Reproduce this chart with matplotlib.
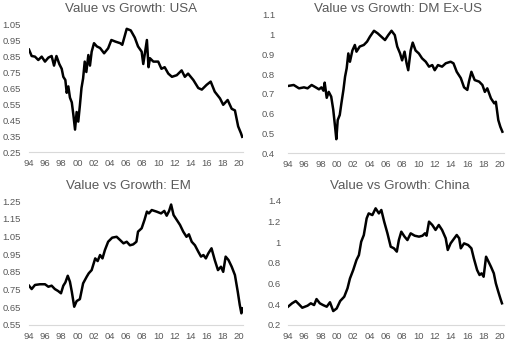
import matplotlib
matplotlib.use('Agg')
import matplotlib.pyplot as plt

# Values (x in fractional years)
USA_YEARS = [1994.0, 1994.33, 1994.74, 1995.15, 1995.57, 1995.98, 1996.4, 1996.8, 1997.1, 1997.4,
             1997.75, 1998.05, 1998.25, 1998.5, 1998.67, 1998.87, 1999.07, 1999.3, 1999.5, 1999.7,
             1999.9, 2000.1, 2000.3, 2000.5, 2000.7, 2000.9, 2001.1, 2001.35, 2001.55, 2001.76,
             2002.05, 2002.4, 2002.8, 2003.3, 2003.8, 2004.2, 2004.7, 2005.3, 2005.55, 2006.1,
             2006.6, 2007.1, 2007.5, 2007.95, 2008.15, 2008.6, 2008.8, 2008.98, 2009.4, 2010.0,
             2010.4, 2010.8, 2011.25, 2011.7, 2012.3, 2012.9, 2013.3, 2013.7, 2014.35, 2014.96,
             2015.4, 2016.0, 2016.5, 2017.0, 2017.65, 2018.05, 2018.6, 2019.1, 2019.5, 2019.9,
             2020.25, 2020.4]
USA_VALUES = [0.89, 0.85, 0.846, 0.825, 0.846, 0.815, 0.84, 0.85, 0.79, 0.85,
              0.80, 0.77, 0.72, 0.70, 0.62, 0.66, 0.59, 0.56, 0.48, 0.39,
              0.50, 0.44, 0.54, 0.65, 0.71, 0.815, 0.75, 0.856, 0.79, 0.877,
              0.93, 0.91, 0.90, 0.867, 0.898, 0.95, 0.94, 0.93, 0.92, 1.02,
              1.01, 0.965, 0.91, 0.877, 0.80, 0.95, 0.78, 0.836, 0.815, 0.815,
              0.77, 0.78, 0.74, 0.72, 0.73, 0.76, 0.72, 0.74, 0.70, 0.65,
              0.64, 0.67, 0.69, 0.627, 0.585, 0.545, 0.575, 0.52, 0.51, 0.41,
              0.367, 0.345]

DM_YEARS = [1994.0, 1994.7, 1995.35, 1995.96, 1996.4, 1996.9, 1997.4, 1997.8, 1998.1, 1998.35,
            1998.5, 1998.75, 1999.0, 1999.3, 1999.55, 1999.77, 1999.93, 2000.1, 2000.35, 2000.55,
            2000.8, 2001.0, 2001.2, 2001.4, 2001.6, 2001.9, 2002.2, 2002.4, 2002.8, 2003.3,
            2003.7, 2004.05, 2004.55, 2005.0, 2005.45, 2005.9, 2006.3, 2006.7, 2007.1, 2007.4,
            2007.75, 2008.0, 2008.3, 2008.55, 2008.75, 2009.05, 2009.3, 2009.65, 2010.05, 2010.45,
            2010.9, 2011.3, 2011.7, 2012.0, 2012.4, 2012.9, 2013.35, 2013.95, 2014.3, 2014.7,
            2015.2, 2015.6, 2016.0, 2016.2, 2016.5, 2016.9, 2017.45, 2017.85, 2018.15, 2018.45,
            2018.9, 2019.3, 2019.5, 2019.8, 2020.05, 2020.3]
DM_VALUES = [0.74, 0.745, 0.728, 0.733, 0.728, 0.745, 0.733, 0.723, 0.733, 0.716,
             0.757, 0.68, 0.71, 0.686, 0.62, 0.535, 0.47, 0.567, 0.593, 0.652,
             0.72, 0.787, 0.83, 0.905, 0.863, 0.92, 0.948, 0.914, 0.94, 0.948,
             0.965, 0.99, 1.02, 1.007, 0.99, 0.973, 0.998, 1.02, 0.998, 0.94,
             0.905, 0.87, 0.914, 0.855, 0.82, 0.92, 0.96, 0.92, 0.905, 0.88,
             0.863, 0.838, 0.846, 0.82, 0.846, 0.838, 0.855, 0.863, 0.855, 0.812,
             0.78, 0.733, 0.72, 0.762, 0.812, 0.77, 0.762, 0.745, 0.71, 0.728,
             0.677, 0.652, 0.66, 0.567, 0.533, 0.508]

EM_YEARS = [1994.0, 1994.33, 1994.74, 1995.36, 1995.98, 1996.4, 1996.8, 1997.2, 1997.6, 1997.96,
            1998.25, 1998.5, 1998.8, 1999.07, 1999.3, 1999.6, 1999.9, 2000.3, 2000.7, 2001.15,
            2001.4, 2001.76, 2002.2, 2002.5, 2002.8, 2003.1, 2003.4, 2003.8, 2004.3, 2004.85,
            2005.27, 2005.7, 2006.1, 2006.5, 2006.9, 2007.3, 2007.5, 2007.95, 2008.3, 2008.6,
            2008.85, 2009.2, 2009.8, 2010.35, 2010.75, 2011.05, 2011.35, 2011.6, 2011.9, 2012.3,
            2012.7, 2013.1, 2013.5, 2013.8, 2014.15, 2014.55, 2014.96, 2015.3, 2015.6, 2015.9,
            2016.2, 2016.6, 2017.0, 2017.4, 2017.77, 2018.05, 2018.35, 2018.7, 2019.1, 2019.5,
            2019.85, 2020.1, 2020.3, 2020.45]
EM_VALUES = [0.772, 0.753, 0.776, 0.78, 0.78, 0.766, 0.772, 0.753, 0.742, 0.729,
             0.772, 0.79, 0.828, 0.794, 0.738, 0.653, 0.685, 0.696, 0.785, 0.823,
             0.842, 0.86, 0.926, 0.911, 0.945, 0.926, 0.973, 1.02, 1.043, 1.048,
             1.03, 1.011, 1.02, 1.0, 1.005, 1.02, 1.077, 1.096, 1.143, 1.19,
             1.18, 1.199, 1.19, 1.18, 1.194, 1.167, 1.194, 1.23, 1.171, 1.143,
             1.115, 1.077, 1.048, 1.062, 1.02, 1.0, 0.964, 0.936, 0.945, 0.926,
             0.954, 0.983, 0.917, 0.86, 0.879, 0.85, 0.936, 0.917, 0.879, 0.832,
             0.738, 0.663, 0.616, 0.644]

CHINA_YEARS = [1994.0, 1994.5, 1994.95, 1995.35, 1995.75, 1996.4, 1996.8, 1997.2, 1997.5, 1997.9,
               1998.3, 1998.75, 1999.15, 1999.55, 1999.97, 2000.4, 2000.9, 2001.3, 2001.6, 2002.0,
               2002.4, 2002.7, 2002.98, 2003.3, 2003.65, 2003.9, 2004.35, 2004.75, 2005.15, 2005.45,
               2005.8, 2006.2, 2006.6, 2007.0, 2007.35, 2007.6, 2007.9, 2008.3, 2008.65, 2009.05,
               2009.55, 2010.07, 2010.5, 2010.8, 2011.0, 2011.3, 2011.7, 2012.1, 2012.5, 2012.9,
               2013.35, 2013.6, 2013.95, 2014.4, 2014.7, 2015.0, 2015.2, 2015.6, 2016.1, 2016.5,
               2016.8, 2017.2, 2017.5, 2017.75, 2018.0, 2018.3, 2018.6, 2018.9, 2019.25, 2019.5,
               2019.8, 2020.05, 2020.25]
CHINA_VALUES = [0.377, 0.41, 0.432, 0.40, 0.367, 0.387, 0.41, 0.393, 0.451, 0.41,
                0.393, 0.377, 0.42, 0.335, 0.36, 0.432, 0.474, 0.555, 0.65, 0.732,
                0.829, 0.877, 1.006, 1.07, 1.232, 1.28, 1.264, 1.329, 1.28, 1.313,
                1.2, 1.087, 0.958, 0.942, 0.91, 1.022, 1.103, 1.055, 1.022, 1.087,
                1.064, 1.055, 1.064, 1.087, 1.064, 1.2, 1.168, 1.12, 1.168, 1.12,
                1.039, 0.926, 0.99, 1.039, 1.071, 1.039, 0.942, 0.99, 0.974, 0.942,
                0.845, 0.732, 0.684, 0.70, 0.667, 0.861, 0.813, 0.764, 0.70, 0.603,
                0.522, 0.458, 0.41]

X_TICKS = [1994, 1996, 1998, 2000, 2002, 2004, 2006, 2008, 2010, 2012, 2014, 2016, 2018, 2020]
X_LABELS = ['94', '96', '98', '00', '02', '04', '06', '08', '10', '12', '14', '16', '18', '20']

USA_YTICKS = [0.25, 0.35, 0.45, 0.55, 0.65, 0.75, 0.85, 0.95, 1.05]
USA_YLABELS = ['0.25', '0.35', '0.45', '0.55', '0.65', '0.75', '0.85', '0.95', '1.05']
DM_YTICKS = [0.4, 0.5, 0.6, 0.7, 0.8, 0.9, 1.0, 1.1]
DM_YLABELS = ['0.4', '0.5', '0.6', '0.7', '0.8', '0.9', '1', '1.1']
EM_YTICKS = [0.55, 0.65, 0.75, 0.85, 0.95, 1.05, 1.15, 1.25]
EM_YLABELS = ['0.55', '0.65', '0.75', '0.85', '0.95', '1.05', '1.15', '1.25']
CHINA_YTICKS = [0.2, 0.4, 0.6, 0.8, 1.0, 1.2, 1.4]
CHINA_YLABELS = ['0.2', '0.4', '0.6', '0.8', '1', '1.2', '1.4']

TEXT_COLOR = '#595959'
AXIS_COLOR = '#d9d9d9'
W, H = 515, 348

plt.rcParams['font.family'] = ['Liberation Sans', 'DejaVu Sans']


def draw_panel(fig, box, title, title_xy, years, values, yticks, ylabels, ypad):
    """
    One Excel-style line panel; box and title_xy are in pixels from top-left
    """
    left, top, right, bottom = box
    ax = fig.add_axes([left / W, 1 - bottom / H, (right - left) / W, (bottom - top) / H])
    ax.plot(years, values, color='black', lw=1.8, solid_joinstyle='round')

    ax.set_xlim(1994, 2020.5)
    ax.set_ylim(yticks[0], yticks[-1])
    ax.set_xticks(X_TICKS)
    ax.set_xticklabels(X_LABELS)
    ax.set_yticks(yticks)
    ax.set_yticklabels(ylabels)
    ax.tick_params(axis='both', length=0, labelsize=6.8, colors=TEXT_COLOR)
    ax.tick_params(axis='x', pad=5)
    ax.tick_params(axis='y', pad=ypad * 0.72)

    for side in ['top', 'right', 'left']:
        ax.spines[side].set_visible(False)
    ax.spines['bottom'].set_color(AXIS_COLOR)
    ax.spines['bottom'].set_linewidth(0.8)
    ax.patch.set_alpha(0)

    fig.text(title_xy[0] / W, 1 - title_xy[1] / H, title, ha='center', va='center',
             fontsize=9.6, color=TEXT_COLOR)
    return ax


fig = plt.figure(figsize=(5.15, 3.48), dpi=100)

draw_panel(fig, (29, 24, 243, 152), 'Value vs Growth: USA', (131, 9),
           USA_YEARS, USA_VALUES, USA_YTICKS, USA_YLABELS, 8)
draw_panel(fig, (288, 15, 504, 153), 'Value vs Growth: DM Ex-US', (398, 9),
           DM_YEARS, DM_VALUES, DM_YTICKS, DM_YLABELS, 13)
draw_panel(fig, (29, 201, 243, 325), 'Value vs Growth: EM', (128, 186),
           EM_YEARS, EM_VALUES, EM_YTICKS, EM_YLABELS, 8)
draw_panel(fig, (288, 201, 504, 325), 'Value vs Growth: China', (400, 186),
           CHINA_YEARS, CHINA_VALUES, CHINA_YTICKS, CHINA_YLABELS, 7)

fig.savefig('out.png', dpi=100)
